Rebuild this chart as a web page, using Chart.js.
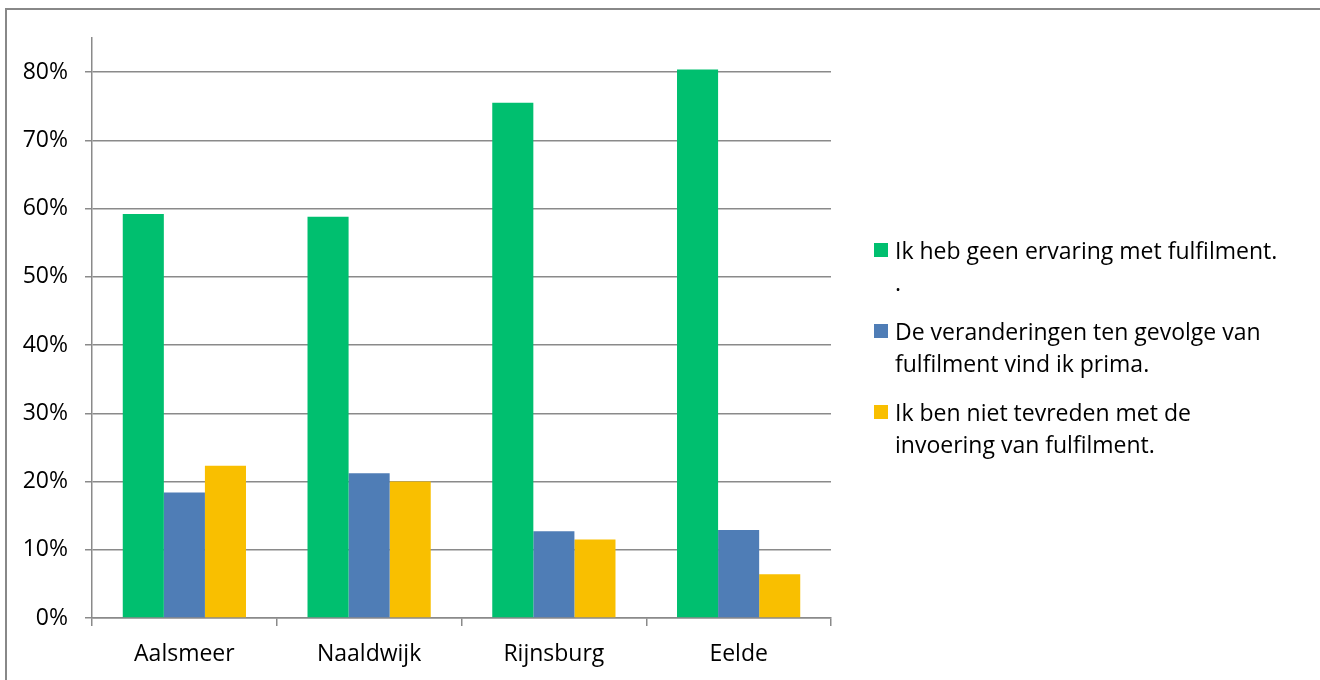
<!DOCTYPE html>
<html>
<head>
<meta charset="utf-8">
<script src="https://cdn.jsdelivr.net/npm/chart.js@4.4.1/dist/chart.umd.min.js"></script>
<style>
  html, body { margin: 0; padding: 0; background: #fff; }
  #wrap { position: relative; width: 1320px; height: 680px; overflow: hidden; background: #fff; }
  #frame { position: absolute; left: 5px; top: 8px; width: 1400px; height: 800px; border-top: 2px solid #888; border-left: 2px solid #888; box-sizing: border-box; }
  #chartBox { position: absolute; left: 0; top: 0; width: 1320px; height: 680px; }
  #legend { position: absolute; left: 874px; top: 234px; font-family: 'Open Sans', sans-serif; font-size: 23px; color: #000; }
  .item { position: relative; padding-left: 21px; margin-bottom: 17px; line-height: 32px; }
  .sw { position: absolute; left: 0; top: 9px; width: 14px; height: 14px; }
</style>
</head>
<body>
<div id="wrap">
  <div id="frame"></div>
  <div id="chartBox"><canvas id="c"></canvas></div>
  <div id="legend"></div>
</div>
<script>
const categories = ['Aalsmeer', 'Naaldwijk', 'Rijnsburg', 'Eelde'];
const seriesNames = [
  ['Ik heb geen ervaring met fulfilment.', '.'],
  ['De veranderingen ten gevolge van', 'fulfilment vind ik prima.'],
  ['Ik ben niet tevreden met de', 'invoering van fulfilment.']
];
const geenErvaring = [0.592, 0.588, 0.755, 0.804];
const prima = [0.184, 0.212, 0.127, 0.129];
const nietTevreden = [0.223, 0.200, 0.115, 0.064];
const colors = ['#00BF6F', '#4F7DB6', '#F9BF00'];
const yTicks = [0, 0.1, 0.2, 0.3, 0.4, 0.5, 0.6, 0.7, 0.8];

const seriesValues = [geenErvaring, prima, nietTevreden];
const datasets = seriesValues.map((vals, i) => ({
  label: seriesNames[i].join(' '),
  data: vals,
  backgroundColor: colors[i],
  borderWidth: 0,
  categoryPercentage: 0.667,
  barPercentage: 1.0
}));

const FONT = { family: "'Open Sans', sans-serif", size: 23 };
const GRID = '#8a8a8a';

new Chart(document.getElementById('c'), {
  type: 'bar',
  data: { labels: categories, datasets },
  options: {
    responsive: true,
    maintainAspectRatio: false,
    animation: false,
    layout: { padding: { top: 38, right: 489, bottom: 0, left: 0 } },
    plugins: { legend: { display: false }, tooltip: { enabled: false } },
    scales: {
      x: {
        grid: { display: true, drawOnChartArea: false, drawTicks: true, tickLength: 8, color: GRID, lineWidth: 1.5 },
        border: { display: true, color: GRID, width: 1.5 },
        ticks: { color: '#000', font: FONT, padding: 15, maxRotation: 0 },
        afterFit: (s) => { s.height = 62; }
      },
      y: {
        min: 0,
        max: 0.85,
        afterBuildTicks: (s) => { s.ticks = yTicks.map(v => ({ value: v })); },
        grid: { color: GRID, lineWidth: 1.5, tickLength: 7, drawTicks: true },
        border: { display: true, color: GRID, width: 1.5 },
        ticks: { color: '#000', font: FONT, padding: 17, callback: (v) => Math.round(v * 100) + '%' },
        afterFit: (s) => { s.width = 92; }
      }
    }
  }
});

const legend = document.getElementById('legend');
seriesNames.forEach((lines, i) => {
  const item = document.createElement('div');
  item.className = 'item';
  const sw = document.createElement('span');
  sw.className = 'sw';
  sw.style.background = colors[i];
  item.appendChild(sw);
  lines.forEach(t => {
    const l = document.createElement('div');
    l.textContent = t;
    item.appendChild(l);
  });
  legend.appendChild(item);
});
</script>
</body>
</html>
